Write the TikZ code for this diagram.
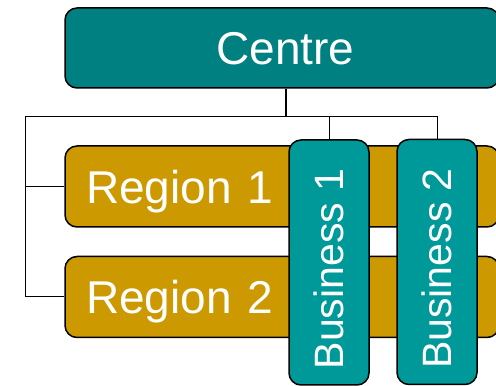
\documentclass[tikz,border=0pt]{standalone}
\usepackage{fontspec}
\setmainfont{Liberation Sans}
\definecolor{centreteal}{HTML}{008080}
\definecolor{regiongold}{HTML}{CC9900}
\definecolor{bizteal}{HTML}{009999}
\begin{document}
\begin{tikzpicture}[x=1pt,y=1pt,
   box/.style={draw=black,line width=1.5pt,rounded corners=12pt,text=white,inner sep=0pt,text depth=0pt},
   centrebox/.style={box,fill=centreteal,minimum width=434pt,minimum height=80pt,font=\fontsize{46}{50}\selectfont},
   regionbox/.style={box,fill=regiongold,inner xsep=21pt,text width=392pt,align=left,minimum height=81pt,font=\fontsize{46}{50}\selectfont},
   bizbox/.style={box,fill=bizteal,rotate=90,minimum width=245pt,minimum height=80pt,font=\fontsize{41}{45}\selectfont},
   link/.style={draw=black,line width=1pt}]
   \clip (0,0) rectangle (496,386);
   \node[centrebox] (centre) at (282,338) {\hspace*{7pt}Centre};
   \node[regionbox] (region1) at (282,199.5) {Region 1};
   \node[regionbox] (region2) at (282,89) {Region 2};
   \node[bizbox] (biz1) at (329,123.5) {\hspace*{-13pt}Business 1};
   \node[bizbox] (biz2) at (437,124) {\hspace*{-13pt}Business 2};
   \coordinate (hub) at (286,269);
   \coordinate (rail) at (25,269);
   \draw[link,line width=1.5pt] (hub |- centre.south) -- (hub);
   \draw[link] (rail) -- (biz2.east |- rail) -- (biz2.east);
   \draw[link] (biz1.east |- rail) -- (biz1.east);
   \draw[link] (rail) |- (region2.west);
   \draw[link] (rail |- region1.west) -- (region1.west);
\end{tikzpicture}
\end{document}
